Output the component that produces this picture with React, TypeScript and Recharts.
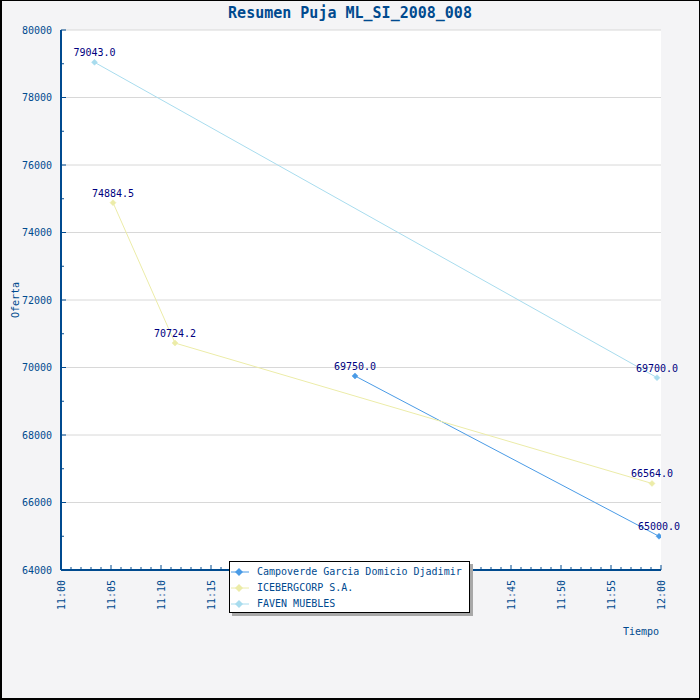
import React from 'react';
import { LineChart, Line, XAxis, YAxis, CartesianGrid, Legend } from 'recharts';

// minutes after 11:00
const campoverdeTimes = [29.4, 59.8];
const campoverdeValues = [69750.0, 65000.0];
const icebergTimes = [5.2, 11.4, 59.1];
const icebergValues = [74884.5, 70724.2, 66564.0];
const favenTimes = [3.35, 59.6];
const favenValues = [79043.0, 69700.0];

const seriesNames = ['Campoverde Garcia Domicio Djadimir', 'ICEBERGCORP S.A.', 'FAVEN MUEBLES'];
const seriesColors = ['#4a9be6', '#ececa8', '#a8dcee'];

const xTicks = Array.from({ length: 61 }, (_, i) => i);
const yTicks = Array.from({ length: 17 }, (_, i) => 64000 + i * 1000);
const yGrid = [64000, 66000, 68000, 70000, 72000, 74000, 76000, 78000, 80000];

const build = (ts: number[], vs: number[]) => ts.map((t, i) => ({ t, v: vs[i] }));
const campoverdeData = build(campoverdeTimes, campoverdeValues);
const icebergData = build(icebergTimes, icebergValues);
const favenData = build(favenTimes, favenValues);

const FONT = '"DejaVu Sans Mono", monospace';
const AXIS = '#004a8f';
const LABEL = '#000080';

const fmtTime = (m: number) => {
  const h = 11 + Math.floor(m / 60);
  const mm = m % 60;
  return `${h}:${mm < 10 ? '0' + mm : mm}`;
};

const XTick = (props: any) => {
  const { x, y, payload } = props;
  const m = payload.value as number;
  const major = m % 5 === 0;
  return (
    <g>
      <line x1={x} x2={x} y1={y} y2={y - (major ? 5 : 3)} stroke={AXIS} strokeWidth={1} />
      {major && (
        <text
          x={x}
          y={y + 10}
          transform={`rotate(-90, ${x}, ${y + 10})`}
          textAnchor="end"
          dy="0.35em"
          fill={AXIS}
          fontSize={10}
          fontFamily={FONT}
        >
          {fmtTime(m)}
        </text>
      )}
    </g>
  );
};

const YTick = (props: any) => {
  const { x, y, payload } = props;
  const v = payload.value as number;
  const major = v % 2000 === 0;
  return (
    <g>
      <line x1={x} x2={x + (major ? 5 : 3)} y1={y} y2={y} stroke={AXIS} strokeWidth={1} />
      {major && (
        <text x={x - 9} y={y} dy="0.35em" textAnchor="end" fill={AXIS} fontSize={10} fontFamily={FONT}>
          {v}
        </text>
      )}
    </g>
  );
};

const Diamond = (color: string) => (props: any) => {
  const { cx, cy, index } = props;
  if (cx == null || cy == null) return <g key={index} />;
  const s = 3;
  return (
    <polygon
      key={index}
      points={`${cx},${cy - s} ${cx + s},${cy} ${cx},${cy + s} ${cx - s},${cy}`}
      fill={color}
      stroke={color}
      strokeWidth={0.5}
    />
  );
};

const ValueLabel = (props: any) => {
  const { x, y, value, index } = props;
  return (
    <text key={index} x={x} y={y - 6} textAnchor="middle" fill={LABEL} fontSize={10} fontFamily={FONT}>
      {Number(value).toFixed(1)}
    </text>
  );
};

const LegendBox = () => (
  <div style={{ position: 'relative', width: 241, height: 52 }}>
    <div
      style={{
        position: 'absolute',
        left: 3,
        top: 3,
        width: 241,
        height: 52,
        background: '#a8a8a8',
      }}
    />
    <div
      style={{
        position: 'absolute',
        left: 0,
        top: 0,
        width: 241,
        height: 52,
        boxSizing: 'border-box',
        background: '#ffffff',
        border: '1px solid #000',
      }}
    >
      {seriesNames.map((n, i) => (
        <div key={n} style={{ position: 'absolute', left: 0, top: 3 + i * 16, height: 14, width: 240 }}>
          <svg width={24} height={14} style={{ position: 'absolute', left: 0, top: 0 }}>
            <line x1={1} x2={19} y1={7} y2={7} stroke={seriesColors[i]} strokeWidth={1} />
            <polygon points="9,3 13,7 9,11 5,7" fill={seriesColors[i]} />
          </svg>
          <span
            style={{
              position: 'absolute',
              left: 27,
              top: 0,
              lineHeight: '14px',
              fontSize: 10,
              fontFamily: FONT,
              color: AXIS,
              whiteSpace: 'nowrap',
            }}
          >
            {n}
          </span>
        </div>
      ))}
    </div>
  </div>
);

export default function App() {
  return (
    <div
      style={{
        position: 'absolute',
        left: 0,
        top: 0,
        width: 700,
        height: 700,
        background: '#f4f4f6',
        boxSizing: 'border-box',
        borderLeft: '2px solid #000',
        borderBottom: '2px solid #000',
        borderTop: '1px solid #000',
        borderRight: '1px solid #000',
      }}
    >
      <div
        style={{
          position: 'absolute',
          left: -2,
          top: 3,
          width: 700,
          textAlign: 'center',
          fontFamily: FONT,
          fontWeight: 'bold',
          fontSize: 15,
          lineHeight: '18px',
          color: AXIS,
        }}
      >
        Resumen Puja ML_SI_2008_008
      </div>
      <div style={{ position: 'absolute', left: -2, top: -1 }}>
        <LineChart width={700} height={700} margin={{ top: 30, right: 39, bottom: 0, left: 0 }}>
          <CartesianGrid
            vertical={false}
            horizontalValues={yGrid}
            stroke="#d8d8d8"
            fill="#ffffff"
            fillOpacity={1}
          />
          <XAxis
            type="number"
            dataKey="t"
            domain={[0, 60]}
            ticks={xTicks}
            interval={0}
            height={130}
            tickSize={0}
            tickMargin={0}
            tickLine={false}
            tick={<XTick />}
            axisLine={{ stroke: AXIS, strokeWidth: 2 }}
            allowDataOverflow
            label={{
              content: () => (
                <text x={659} y={635} textAnchor="end" fill={AXIS} fontSize={10} fontFamily={FONT}>
                  Tiempo
                </text>
              ),
            }}
          />
          <YAxis
            type="number"
            domain={[64000, 80000]}
            ticks={yTicks}
            interval={0}
            width={61}
            tickSize={0}
            tickMargin={0}
            tickLine={false}
            tick={<YTick />}
            axisLine={{ stroke: AXIS, strokeWidth: 2 }}
            allowDataOverflow
            label={{
              content: () => (
                <text
                  x={15}
                  y={300}
                  transform="rotate(-90, 15, 300)"
                  textAnchor="middle"
                  dy="0.35em"
                  fill={AXIS}
                  fontSize={10}
                  fontFamily={FONT}
                >
                  Oferta
                </text>
              ),
            }}
          />
          <Line
            data={campoverdeData}
            dataKey="v"
            name={seriesNames[0]}
            stroke={seriesColors[0]}
            strokeWidth={1}
            dot={Diamond(seriesColors[0])}
            activeDot={false}
            label={<ValueLabel />}
            isAnimationActive={false}
          />
          <Line
            data={icebergData}
            dataKey="v"
            name={seriesNames[1]}
            stroke={seriesColors[1]}
            strokeWidth={1}
            dot={Diamond(seriesColors[1])}
            activeDot={false}
            label={<ValueLabel />}
            isAnimationActive={false}
          />
          <Line
            data={favenData}
            dataKey="v"
            name={seriesNames[2]}
            stroke={seriesColors[2]}
            strokeWidth={1}
            dot={Diamond(seriesColors[2])}
            activeDot={false}
            label={<ValueLabel />}
            isAnimationActive={false}
          />
          <Legend
            layout="vertical"
            align="center"
            verticalAlign="middle"
            content={<LegendBox />}
            wrapperStyle={{ position: 'absolute', left: 229, top: 561, width: 245, height: 56 }}
          />
        </LineChart>
      </div>
    </div>
  );
}
